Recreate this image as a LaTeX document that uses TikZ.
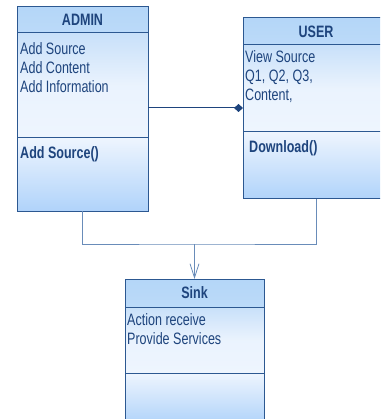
\documentclass[tikz,border=0pt]{standalone}
\usepackage{fontspec}
\setmainfont[FakeStretch=0.76]{Liberation Sans}
\usetikzlibrary{arrows.meta}
\definecolor{umlborder}{RGB}{44,88,145}
\definecolor{umltext}{RGB}{30,68,125}
\definecolor{umlhead}{RGB}{180,214,248}
\definecolor{umlpale}{RGB}{238,245,254}
\definecolor{umllight}{RGB}{200,224,249}
\definecolor{umlfoot}{RGB}{176,211,250}
\definecolor{umlwire}{RGB}{105,140,185}
\tikzset{
  classbox/.style={draw=none, fill=none, inner sep=0pt, outer sep=0pt},
  hdrfill/.style={top color=umlhead, bottom color=umlhead!90!white},
  attrfill/.style={top color=umllight, bottom color=umlpale, middle color=umlpale!90!umllight},
  opfill/.style={top color=umlpale, bottom color=umlfoot},
  frame/.style={draw=umlborder, line width=1pt},
  title/.style={font=\fontsize{16.5}{19}\selectfont\bfseries, text=umltext, inner sep=0pt},
  members/.style={font=\fontsize{16.5}{19}\selectfont, text=umltext, inner sep=0pt, align=left, anchor=north west},
  ops/.style={font=\fontsize{16.5}{19}\selectfont\bfseries, text=umltext, inner sep=0pt, align=left, anchor=north west},
  wire/.style={draw=umlwire, line width=1pt},
  assoc/.style={draw=umltext, line width=1pt},
}
\begin{document}
\begin{tikzpicture}[x=1pt,y=-1pt]
\useasboundingbox (0,0) rectangle (380,419);
\begin{scope}
\clip (0,0) rectangle (380,419);
% class boxes (shapes for anchors)
\node[classbox, minimum width=131pt, minimum height=204pt] (admin) at (82.5,109) {};
\node[classbox, minimum width=146pt, minimum height=181pt] (user) at (316,108.5) {};
\node[classbox, minimum width=139pt, minimum height=151pt] (sink) at (194.5,354.5) {};
% ADMIN compartments
\shade[hdrfill] (admin.north west) rectangle ([yshift=-26pt]admin.north east);
\shade[attrfill] ([yshift=-26pt]admin.north west) rectangle ([yshift=-131pt]admin.north east);
\shade[opfill] ([yshift=-131pt]admin.north west) rectangle (admin.south east);
\draw[frame] (admin.north west) rectangle (admin.south east);
\draw[frame] ([yshift=-26pt]admin.north west) -- ([yshift=-26pt]admin.north east);
\draw[frame] ([yshift=-131pt]admin.north west) -- ([yshift=-131pt]admin.north east);
% USER compartments
\shade[hdrfill] (user.north west) rectangle ([yshift=-27pt]user.north east);
\shade[attrfill] ([yshift=-27pt]user.north west) rectangle ([yshift=-114pt]user.north east);
\shade[opfill] ([yshift=-114pt]user.north west) rectangle (user.south east);
\draw[frame] (user.north west) rectangle (user.south east);
\draw[frame] ([yshift=-27pt]user.north west) -- ([yshift=-27pt]user.north east);
\draw[frame] ([yshift=-114pt]user.north west) -- ([yshift=-114pt]user.north east);
% Sink compartments
\shade[hdrfill] (sink.north west) rectangle ([yshift=-28pt]sink.north east);
\shade[attrfill] ([yshift=-28pt]sink.north west) rectangle ([yshift=-94pt]sink.north east);
\shade[opfill] ([yshift=-94pt]sink.north west) rectangle ([yshift=-145pt]sink.north east);
\draw[frame] (sink.north west) rectangle (sink.south east);
\draw[frame] ([yshift=-28pt]sink.north west) -- ([yshift=-28pt]sink.north east);
\draw[frame] ([yshift=-94pt]sink.north west) -- ([yshift=-94pt]sink.north east);
\end{scope}
% texts
\node[title] (admintitle) at ([yshift=-13pt]admin.north) {ADMIN};
\node[members] (adminattr) at ([xshift=3pt,yshift=-35pt]admin.north west) {Add Source\\Add Content\\Add Information};
\node[ops] (adminops) at ([xshift=3pt,yshift=-139pt]admin.north west) {Add Source()};
\node[title] (usertitle) at ([yshift=-14pt]user.north) {USER};
\node[members] (userattr) at ([xshift=2pt,yshift=-32pt]user.north west) {View Source\\Q1, Q2, Q3,\\Content,};
\node[ops] (userops) at ([xshift=6pt,yshift=-122pt]user.north west) {Download()};
\node[title] (sinktitle) at ([yshift=-14pt]sink.north) {Sink};
\node[members] (sinkattr) at ([xshift=2pt,yshift=-34pt]sink.north west) {Action receive\\Provide Services};
% connectors
\coordinate (adminport) at ([yshift=-101pt]admin.north east);
\coordinate (userport) at (user.west |- adminport);
\draw[assoc, -{Diamond[length=9pt,width=8pt]}] (adminport) -- (userport);
\coordinate (junction) at (194.5,244);
\draw[wire] (admin.south) |- (junction) -| (user.south);
\draw[wire, -{Straight Barb[length=14pt,width=9pt,line width=0.8pt]}] (junction) -- (sink.north);
\end{tikzpicture}
\end{document}
